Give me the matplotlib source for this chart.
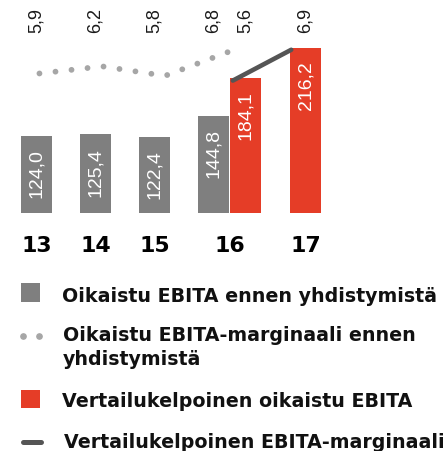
import numpy as np
import matplotlib
matplotlib.use("Agg")
import matplotlib.pyplot as plt
from matplotlib.patches import Rectangle

plt.rcParams['lines.scale_dashes'] = False

# data
years = ['13', '14', '15', '16', '17']
ebita_before = [124.0, 125.4, 122.4, 144.8]        # 13-16, gray
margin_before = [5.9, 6.2, 5.8, 6.8]
ebita_comp = [184.1, 216.2]                          # 16-17, red
margin_comp = [5.6, 6.9]

legend_labels = ['Oikaistu EBITA ennen yhdistymistä',
                 'Oikaistu EBITA-marginaali ennen\nyhdistymistä',
                 'Vertailukelpoinen oikaistu EBITA',
                 'Vertailukelpoinen EBITA-marginaali']

GRAY = '#7f7f7f'
RED = '#e53d27'
DOT = '#a6a6a6'
LINE = '#555555'
NUM_FONT = 'Liberation Sans'

W, H = 446, 451
fig = plt.figure(figsize=(W / 100, H / 100), dpi=100)

# bar layout (units of one category step)
w = 0.525
xs_gray = np.arange(len(ebita_before), dtype=float)
xs_red = np.array([xs_gray[-1] + 0.54, xs_gray[-1] + 1.56])
tick_pos = list(xs_gray[:3]) + [(xs_gray[-1] + xs_red[0]) / 2, xs_red[1]]

ax_bottom = 213.3
ax = fig.add_axes([0, 1 - ax_bottom / H, 1, ax_bottom / H])
ax.set_xlim(-36.5 / 59, (W - 36.5) / 59)
ax.set_ylim(43, 266)

ax.bar(xs_gray, ebita_before, width=w, color=GRAY)
ax.bar(xs_red, ebita_comp, width=w, color=RED)

for x, v in list(zip(xs_gray, ebita_before)) + list(zip(xs_red, ebita_comp)):
    ax.annotate(f'{v:.1f}'.replace('.', ','), xy=(x, v), xytext=(0, -9.5),
                textcoords='offset points', rotation=90, ha='center', va='top',
                color='white', fontsize=14, family=NUM_FONT)

ax.set_xticks(tick_pos, years)
ax.tick_params(axis='x', length=0, pad=16, labelsize=15.8)
for lab in ax.get_xticklabels():
    lab.set_fontweight('bold')
    lab.set_family('DejaVu Sans')
ax.set_yticks([])
for s in ax.spines.values():
    s.set_visible(False)

# margin axis
ax2 = ax.twinx()
ax2.set_ylim(0.0, 9.0)
ax2.set_yticks([])
for s in ax2.spines.values():
    s.set_visible(False)

xm_before = np.linspace(xs_gray[0] + 0.05, xs_gray[-1] + w / 2 - 0.02, len(margin_before))
xm_comp = np.array([xs_red[0] - w / 2 + 0.05, xs_red[1] - w / 2 + 0.02])

ax2.plot(xm_before, margin_before, color=DOT, lw=4.2, linestyle=(0, (0.01, 11.6)),
         dash_capstyle='round')
ax2.plot(xm_comp, margin_comp, color=LINE, lw=3.3, solid_capstyle='round')

label_x = list(xs_gray) + list(xs_red)
for x, v in zip(label_x, margin_before + margin_comp):
    ax2.text(x, 0.9625, f'{v:.1f}'.replace('.', ','), transform=ax2.get_xaxis_transform(),
             rotation=90, ha='center', va='top', fontsize=13, family=NUM_FONT,
             color='#1a1a1a')

# legend drawn in pixel space
lax = fig.add_axes([0, 0, 1, 1])
lax.set_xlim(0, W)
lax.set_ylim(H, 0)
lax.axis('off')

lax.add_patch(Rectangle((21, 283), 19, 19, color=GRAY, lw=0))
lax.plot([23, 39], [336, 336], color=DOT, lw=0, marker='o', ms=3.8)
lax.add_patch(Rectangle((21, 390), 19, 18, color=RED, lw=0))
lax.plot([22.5, 40.5], [442, 442], color=LINE, lw=3.6, solid_capstyle='round')

text_kw = dict(fontsize=13.7, fontweight='bold', family='DejaVu Sans',
               color='#111111', va='baseline', ha='left')
lax.text(62, 301.5, legend_labels[0], **text_kw)
lax.text(63, 365, legend_labels[1], linespacing=1.31, **text_kw)
lax.text(62, 407, legend_labels[2], **text_kw)
lax.text(64, 448, legend_labels[3], **text_kw)

fig.savefig('out.png', dpi=100)
